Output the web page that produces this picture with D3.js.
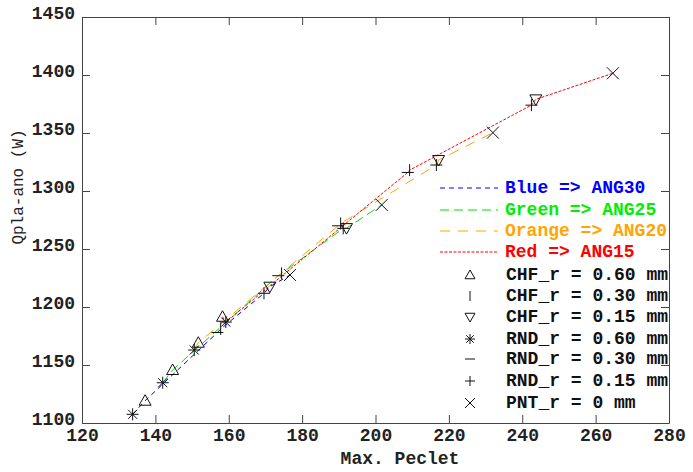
<!DOCTYPE html>
<html>
<head>
<meta charset="utf-8">
<script src="https://cdn.jsdelivr.net/npm/d3@7/dist/d3.min.js"></script>
<style>
  html, body { margin: 0; padding: 0; background: #fff; }
  svg text { font-family: "Liberation Mono", "Courier New", monospace; }
</style>
</head>
<body>
<svg id="chart" width="693" height="472"></svg>
<script>
// ---------- data ----------
const angles = ["ANG30", "ANG25", "ANG20", "ANG15"];
const colorNames = ["Blue", "Green", "Orange", "Red"];
const geometries = ["CHF_r = 0.60 mm", "CHF_r = 0.30 mm", "CHF_r = 0.15 mm",
                    "RND_r = 0.60 mm", "RND_r = 0.30 mm", "RND_r = 0.15 mm", "PNT_r = 0 mm"];
const markerTypes = ["triUp", "vbar", "triDown", "star", "hbar", "plus", "cross"];

// Peclet (x) and Qpla-ano (y), ordered as geometries
const pecletANG30 = [137.2, 157.8, 171.2, 133.8, 156.9, 169.6, 176.7];
const qANG30      = [1119.2, 1181, 1217.5, 1107.5, 1178, 1211.8, 1227.6];
const pecletANG25 = [144.7, 174.4, 192.1, 142.0, 173.5, 191.2, 201.7];
const qANG25      = [1145.7, 1229, 1268, 1134.7, 1227, 1267.8, 1288];
const pecletANG20 = [151.7, 190.5, 217.2, 150.6, 189.8, 216.6, 232.0];
const qANG20      = [1169.2, 1272, 1326.7, 1162.9, 1270, 1322.4, 1350.3];
const pecletANG15 = [158.3, 209.3, 243.7, 159.2, 208.8, 242.5, 264.7];
const qANG15      = [1191.6, 1318, 1379, 1187, 1316, 1374, 1401.5];

const xTicks = [120, 140, 160, 180, 200, 220, 240, 260, 280];
const yTicks = [1100, 1150, 1200, 1250, 1300, 1350, 1400, 1450];

const seriesX = [pecletANG30, pecletANG25, pecletANG20, pecletANG15];
const seriesY = [qANG30, qANG25, qANG20, qANG15];

// ---------- styles ----------
const colors = ["#0000ff", "#00e000", "#ffa500", "#ff0000"];
const textColors = ["#0000ff", "#00ee00", "#ffa500", "#ff0000"];
const dashes = ["5,4", "9,5", "10,8", "3,1.5"];

// ---------- layout ----------
const svg = d3.select("#chart");
const pLeft = 82, pRight = 669, pTop = 17, pBottom = 423;
const x = d3.scaleLinear().domain([120, 280]).range([pLeft, pRight]);
const y = d3.scaleLinear().domain([1100, 1450]).range([pBottom, pTop]);
const axisColor = "#444";
const fmt = d3.format("d");

// axes
const gx = svg.append("g").attr("transform", `translate(0,${pBottom})`)
  .call(d3.axisBottom(x).tickValues(xTicks).tickFormat(fmt).tickSizeInner(-8).tickSizeOuter(0));
const gxTop = svg.append("g").attr("transform", `translate(0,${pTop})`)
  .call(d3.axisTop(x).tickValues(xTicks).tickSizeInner(-8).tickSizeOuter(0).tickFormat(""));
const gy = svg.append("g").attr("transform", `translate(${pLeft},0)`)
  .call(d3.axisLeft(y).tickValues(yTicks).tickFormat(fmt).tickSizeInner(-8).tickSizeOuter(0));
const gyRight = svg.append("g").attr("transform", `translate(${pRight},0)`)
  .call(d3.axisRight(y).tickValues(yTicks).tickSizeInner(-8).tickSizeOuter(0).tickFormat(""));

[gx, gxTop, gy, gyRight].forEach(g => {
  g.select(".domain").attr("stroke", axisColor).attr("stroke-width", 1);
  g.selectAll(".tick line").attr("stroke", axisColor);
  g.selectAll("text").attr("fill", "#222").attr("font-size", 18).attr("font-weight", "bold")
    .attr("font-family", "'Liberation Mono', 'Courier New', monospace");
});
gy.selectAll(".tick text").attr("dy", "0").attr("y", 1).attr("x", -7);
gx.selectAll(".tick text").attr("dy", "0").attr("y", 18);

// axis labels
svg.append("text").attr("x", 400).attr("y", 464).attr("text-anchor", "middle")
  .attr("font-size", 18).attr("font-weight", "bold").attr("fill", "#222").text("Max. Peclet");
svg.append("text").attr("transform", "translate(23,187) rotate(-90)").attr("text-anchor", "middle")
  .attr("font-size", 16).attr("fill", "#222").text("Qpla-ano (W)");

// ---------- markers ----------
function markerPath(type, cx, cy, s) {
  const h = s / 2;
  switch (type) {
    case "triUp": return `M${cx},${cy - h}L${cx + h},${cy + h * 0.75}L${cx - h},${cy + h * 0.75}Z`;
    case "triDown": return `M${cx},${cy + h}L${cx + h},${cy - h * 0.75}L${cx - h},${cy - h * 0.75}Z`;
    case "vbar": return `M${cx},${cy - h}L${cx},${cy + h}`;
    case "hbar": return `M${cx - h},${cy}L${cx + h},${cy}`;
    case "plus": return `M${cx - h},${cy}L${cx + h},${cy}M${cx},${cy - h}L${cx},${cy + h}`;
    case "cross": return `M${cx - h},${cy - h}L${cx + h},${cy + h}M${cx - h},${cy + h}L${cx + h},${cy - h}`;
    case "star": {
      const d = h * 0.75;
      return `M${cx - h},${cy}L${cx + h},${cy}M${cx},${cy - h}L${cx},${cy + h}` +
             `M${cx - d},${cy - d}L${cx + d},${cy + d}M${cx - d},${cy + d}L${cx + d},${cy - d}`;
    }
  }
}

// ---------- lines ----------
const line = d3.line().x(d => x(d[0])).y(d => y(d[1]));
angles.forEach((a, i) => {
  const pts = seriesX[i].map((v, j) => [v, seriesY[i][j]]).sort((p, q) => p[0] - q[0]);
  svg.append("path").attr("d", line(pts)).attr("fill", "none")
    .attr("stroke", colors[i]).attr("stroke-width", 1).attr("stroke-dasharray", dashes[i]);
});

// ---------- points ----------
angles.forEach((a, i) => {
  seriesX[i].forEach((v, j) => {
    svg.append("path").attr("d", markerPath(markerTypes[j], x(v), y(seriesY[i][j]), 12))
      .attr("fill", "none").attr("stroke", "#111").attr("stroke-width", 1);
  });
});

// ---------- legend ----------
const legLineRows = [193, 215, 236, 257];
angles.forEach((a, i) => {
  const ly = legLineRows[i];
  svg.append("line").attr("x1", 440).attr("x2", 498).attr("y1", ly - 5).attr("y2", ly - 5)
    .attr("stroke", colors[i]).attr("stroke-width", 1).attr("stroke-dasharray", dashes[i]);
  svg.append("text").attr("x", 505).attr("y", ly).attr("font-size", 18).attr("font-weight", "bold")
    .attr("fill", textColors[i]).text(`${colorNames[i]} => ${a}`);
});
const legMarkRows = [280, 301, 322, 344, 364, 386, 408];
geometries.forEach((gname, j) => {
  const ly = legMarkRows[j];
  svg.append("path").attr("d", markerPath(markerTypes[j], 470, ly - 5, 10))
    .attr("fill", "none").attr("stroke", "#111").attr("stroke-width", 1);
  svg.append("text").attr("x", 506).attr("y", ly).attr("font-size", 18).attr("font-weight", "bold")
    .attr("fill", "#111").text(gname);
});
</script>
</body>
</html>
